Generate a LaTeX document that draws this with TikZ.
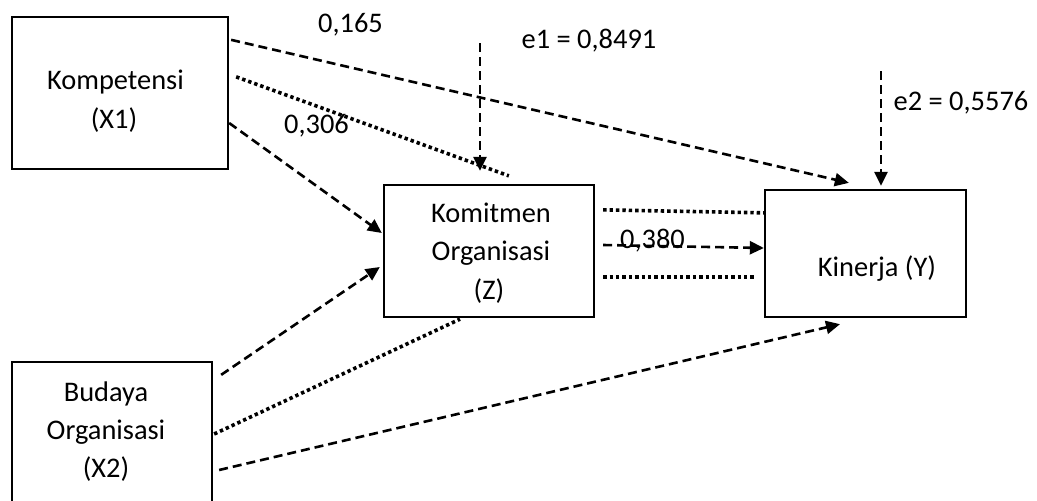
\documentclass[tikz,border=0pt]{standalone}
\usepackage{fontspec}
\setmainfont{Carlito}
\usetikzlibrary{arrows.meta,calc}
\begin{document}
\begin{tikzpicture}[x=1pt,y=-1pt,
  box/.style={draw,line width=2.3pt,inner sep=0pt},
  txt/.style={anchor=base,inner sep=0pt,font=\fontsize{28.4}{34}\selectfont},
  dsh/.style={line width=2.6pt,dash pattern=on 9pt off 5pt},
  dtt/.style={line width=3.6pt,dash pattern=on 3.4pt off 3pt},
  arr/.style={-{Triangle[length=14pt,width=13pt]}}
]
\useasboundingbox (0,0) rectangle (1037,501);
\clip (0,0) rectangle (1037,501);

% boxes
\node[box,minimum width=216pt,minimum height=152pt] (X1) at (120,93) {};
\node[box,minimum width=210pt,minimum height=132pt] (Z) at (489,251) {};
\node[box,minimum width=201pt,minimum height=127pt] (Y) at (865.5,253.5) {};
\node[box,minimum width=200pt,minimum height=156pt] (X2) at (112,440) {};

% box texts
\node[txt] (x1a) at (115.5,89) {Kompetensi};
\node[txt] (x1b) at (114,128) {(X1)};
\node[txt] (za) at (491,222) {Komitmen};
\node[txt] (zb) at (491,260) {Organisasi};
\node[txt] (zc) at (489,299) {(Z)};
\node[txt] (ya) at (877,276) {Kinerja (Y)};
\node[txt] (x2a) at (106,401) {Budaya};
\node[txt] (x2b) at (106,439) {Organisasi};
\node[txt] (x2c) at (106,477) {(X2)};

% coefficient labels
\node[txt] (l165) at (350.5,32) {0,165};
\node[txt] (l306) at (316.5,133) {0,306};
\node[txt] (le1) at (589,48) {e1 = 0,8491};
\node[txt] (le2) at (961,110) {e2 = 0,5576};
\node[txt] (l380) at (652.5,248) {0,380};

% error sources
\coordinate (e1) at (480,43);
\coordinate (e2) at (881,71);

% connectors
\draw[dsh,arr] ($(X1.north east)+(2,24)$) -- ($(Y.north west)+(85,-6)$);
\draw[dtt] ($(X1.north east)+(7,61)$) -- ($(Z.north west)+(126,-8)$);
\draw[dsh,arr] ($(X1.east)+(0,30)$) -- ($(Z.west)+(-1,-18)$);
\draw[dsh,arr] (e1) -- ($(Z.north)+(-9,-13)$);
\draw[dsh,arr] (e2) -- ($(Y.north)+(15.5,-3)$);
\draw[dtt] ($(Z.north east)+(8,26)$) -- ($(Y.north west)+(0,24)$);
\draw[dsh,arr] ($(Z.east)+(8,-6)$) -- ($(Y.west)+(0,-5.5)$);
\draw[dtt] ($(Z.east)+(8,26)$) -- ($(Y.west)+(-10,23.5)$);
\draw[dsh,arr] ($(X2.north east)+(8,14)$) -- ($(Z.west)+(-3,16)$);
\draw[dtt] ($(X2.east)+(1,-6)$) -- ($(Z.south)+(-29,1)$);
\draw[dsh,arr] ($(X2.east)+(6,30)$) -- ($(Y.south)+(-25.5,6)$);
\end{tikzpicture}
\end{document}
